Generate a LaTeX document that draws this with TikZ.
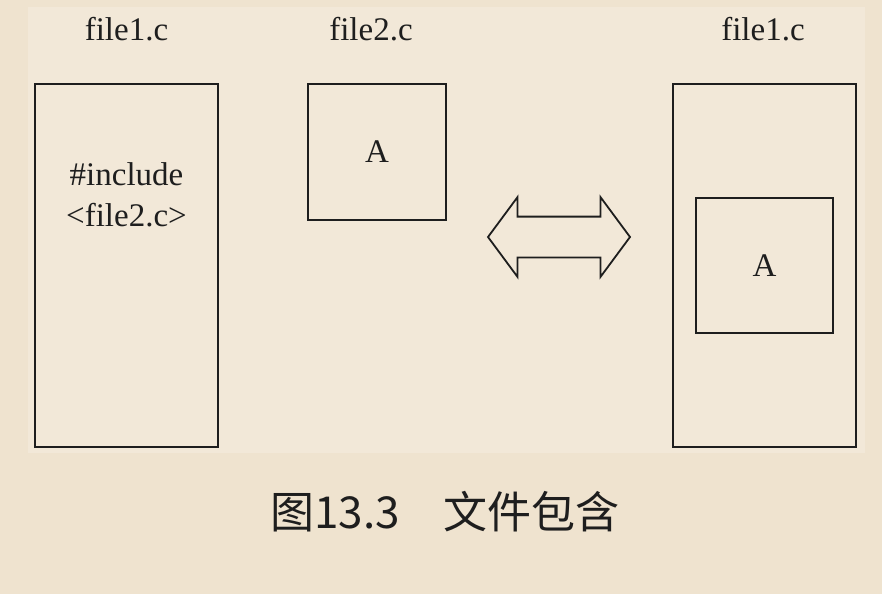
\documentclass[tikz,border=0pt]{standalone}
\usepackage{fontspec}
\setmainfont{Liberation Serif}
\newfontfamily\cjk{Noto Sans CJK SC}
\usepackage{xcolor}
\usetikzlibrary{positioning,shapes.arrows}
\definecolor{paper}{HTML}{EFE3CF}
\definecolor{sheet}{HTML}{F2E8D8}
\definecolor{ink}{HTML}{1E1E1E}

\begin{document}
\begin{tikzpicture}[%
    x=0.5pt,
    y=-0.5pt,
    font=\fontsize{16.5}{20.5}\selectfont,
    filebox/.style={%
      rectangle,
      draw=ink,
      line width=0.9pt,
      inner sep=0pt,
      text=ink
    },
    filename/.style={%
      anchor=base,
      inner sep=0pt,
      text=ink
    }
  ]
    \fill[paper] (0,0) rectangle (882,594);
    \fill[sheet] (28,7) rectangle (865,453);
    \useasboundingbox (0,0) rectangle (882,594);

    \node[filebox, minimum width=91.5pt, minimum height=181.5pt] (src) at (126.5,265.5) {};
    \node[filebox, minimum width=69pt, minimum height=68pt]      (inc) at (377,152)     {A};
    \node[filebox, minimum width=91.5pt, minimum height=181.5pt] (dst) at (764.5,265.5) {};
    \node[filebox, minimum width=68.5pt, minimum height=67.5pt]  (part) at (dst.center) {A};

    \node[filename] (srcname) at (126.5,40) {file1.c};
    \node[filename] (incname) at (371,40)   {file2.c};
    \node[filename] (dstname) at (763,40)   {file1.c};

    \node[align=center, inner sep=0pt, text=ink] (directive) at (126.5,195) {\#include\\<file2.c>};

    \node[double arrow, draw=ink, line width=0.9pt,
          minimum height=71pt, inner xsep=0pt, inner ysep=9.75pt,
          double arrow head extend=9.75pt, double arrow tip angle=107] (swap) at (559,237) {};

    \node[font=\cjk\fontsize{22}{26}\selectfont, text=ink] (caption) at (445,512) {图13.3　文件包含};
\end{tikzpicture}
\end{document}
